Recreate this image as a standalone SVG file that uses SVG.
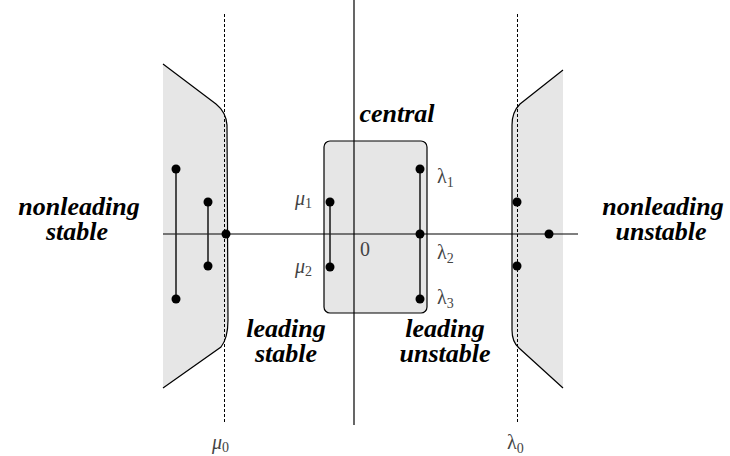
<svg xmlns="http://www.w3.org/2000/svg" width="730" height="456" viewBox="0 0 730 456">
<style>
.region{fill:#e6e6e6;stroke:none}
.edge{fill:none;stroke:#000;stroke-width:1.2}
.axis{stroke:#000;stroke-width:1.2;fill:none}
.dash{stroke:#000;stroke-width:1;stroke-dasharray:3,2;fill:none}
.seg{stroke:#222;stroke-width:1.6}
.dot{fill:#000}
</style>
<g id="left-region">
<path class="region" d="M163,64 L216,104 Q226,112 227,125 L228,320 Q228,338 221,347 L163,388 Z"/>
<path class="edge" d="M163,64 L216,104 Q226,112 227,125 L228,320 Q228,338 221,347 L163,388"/>
</g>
<g id="right-region">
<path class="region" d="M563,70 L520,104 Q512,112 512,125 L512,330 Q512,342 519,348 L563,388 Z"/>
<path class="edge" d="M563,70 L520,104 Q512,112 512,125 L512,330 Q512,342 519,348 L563,388"/>
</g>
<g id="central-box">
<rect x="324" y="141" width="103" height="172" rx="6" fill="#e6e6e6" stroke="#000" stroke-width="1.2"/>
</g>
<g id="connectors">
<line class="axis" x1="163" y1="234" x2="578" y2="234"/>
<line class="axis" x1="354" y1="0" x2="354" y2="425"/>
<line class="dash" x1="224.5" y1="14" x2="224.5" y2="424"/>
<line class="dash" x1="517.5" y1="14" x2="517.5" y2="424"/>
<line class="seg" x1="176" y1="169" x2="176" y2="299"/>
<line class="seg" x1="208" y1="202" x2="208" y2="266"/>
<line class="seg" x1="330" y1="202" x2="330" y2="267"/>
<line class="seg" x1="420" y1="169" x2="420" y2="299"/>
</g>
<g id="dots">
<circle class="dot" cx="176" cy="169" r="4.5"/>
<circle class="dot" cx="176" cy="299" r="4.5"/>
<circle class="dot" cx="208" cy="202" r="4.5"/>
<circle class="dot" cx="208" cy="266" r="4.5"/>
<circle class="dot" cx="226" cy="234" r="4.5"/>
<circle class="dot" cx="330" cy="202" r="4.5"/>
<circle class="dot" cx="330" cy="267" r="4.5"/>
<circle class="dot" cx="420" cy="169" r="4.5"/>
<circle class="dot" cx="420" cy="234" r="4.5"/>
<circle class="dot" cx="420" cy="299" r="4.5"/>
<circle class="dot" cx="517" cy="202" r="4.5"/>
<circle class="dot" cx="517" cy="266" r="4.5"/>
<circle class="dot" cx="549" cy="234" r="4.5"/>
</g>
<text x="397" y="122" font-family="Liberation Serif" font-size="26" font-weight="bold" font-style="italic" text-anchor="middle">central</text>
<text x="79" y="215" font-family="Liberation Serif" font-size="26" font-weight="bold" font-style="italic" text-anchor="middle">nonleading</text>
<text x="77" y="240" font-family="Liberation Serif" font-size="26" font-weight="bold" font-style="italic" text-anchor="middle">stable</text>
<text x="663" y="215" font-family="Liberation Serif" font-size="26" font-weight="bold" font-style="italic" text-anchor="middle">nonleading</text>
<text x="661" y="240" font-family="Liberation Serif" font-size="26" font-weight="bold" font-style="italic" text-anchor="middle">unstable</text>
<text x="286" y="337" font-family="Liberation Serif" font-size="26" font-weight="bold" font-style="italic" text-anchor="middle">leading</text>
<text x="286" y="362" font-family="Liberation Serif" font-size="26" font-weight="bold" font-style="italic" text-anchor="middle">stable</text>
<text x="445" y="337" font-family="Liberation Serif" font-size="26" font-weight="bold" font-style="italic" text-anchor="middle">leading</text>
<text x="445" y="362" font-family="Liberation Serif" font-size="26" font-weight="bold" font-style="italic" text-anchor="middle">unstable</text>
<text x="360" y="256" font-family="Liberation Serif" font-size="20" fill="#444">0</text>
<text x="295" y="205" font-family="Liberation Serif" font-size="20" font-style="italic" fill="#444">μ<tspan font-size="14" font-style="normal" dy="3">1</tspan></text>
<text x="295" y="273" font-family="Liberation Serif" font-size="20" font-style="italic" fill="#444">μ<tspan font-size="14" font-style="normal" dy="3">2</tspan></text>
<text x="437" y="183" font-family="Liberation Serif" font-size="20" fill="#444">λ<tspan font-size="14" dy="4">1</tspan></text>
<text x="437" y="259" font-family="Liberation Serif" font-size="20" fill="#444">λ<tspan font-size="14" dy="4">2</tspan></text>
<text x="437" y="304" font-family="Liberation Serif" font-size="20" fill="#444">λ<tspan font-size="14" dy="4">3</tspan></text>
<text x="212" y="449" font-family="Liberation Serif" font-size="20" font-style="italic" fill="#444">μ<tspan font-size="14" font-style="normal" dy="3">0</tspan></text>
<text x="507" y="449" font-family="Liberation Serif" font-size="20" fill="#444">λ<tspan font-size="14" dy="4">0</tspan></text>
</svg>
